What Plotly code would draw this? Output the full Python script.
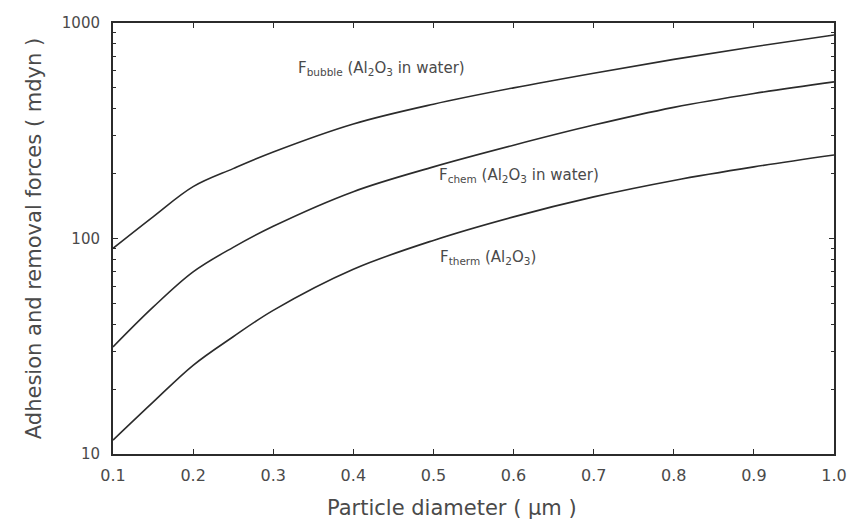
import plotly.graph_objects as go
import numpy as np

diameter = [0.1, 0.15, 0.2, 0.25, 0.3, 0.4, 0.5, 0.6, 0.7, 0.8, 0.9, 1.0]
f_bubble = [90, 126, 174, 211, 252, 340, 420, 500, 585, 678, 776, 880]
f_chem = [31.4, 48, 70, 91, 114, 165, 215, 271, 336, 406, 471, 533]
f_therm = [11.6, 17.4, 25.8, 35, 46.4, 72, 98, 126, 156, 186, 215, 244]

x_ticks = [0.1, 0.2, 0.3, 0.4, 0.5, 0.6, 0.7, 0.8, 0.9, 1.0]
x_ticklabels = ["0.1", "0.2", "0.3", "0.4", "0.5", "0.6", "0.7", "0.8", "0.9", "1.0"]
y_ticks = [10, 100, 1000]
y_ticklabels = ["10", "100", "1000"]
y_minor = [m * d for d in (10, 100) for m in range(2, 10)]

labels = [
    ("F<sub>bubble</sub> (Al<sub>2</sub>O<sub>3</sub> in water)", 0.328, 618),
    ("F<sub>chem</sub> (Al<sub>2</sub>O<sub>3</sub> in water)", 0.504, 197),
    ("F<sub>therm</sub> (Al<sub>2</sub>O<sub>3</sub>)", 0.506, 81.5),
]
x_title = "Particle diameter ( µm )"
y_title = "Adhesion and removal forces ( mdyn )"

line_color = "#2b2b2b"
text_color = "#4a4a4a"
font_family = "DejaVu Sans, Verdana, sans-serif"

fig = go.Figure()
for ys in (f_bubble, f_chem, f_therm):
    fig.add_trace(go.Scatter(x=diameter, y=ys, mode="lines",
                             line=dict(color=line_color, width=1.6, shape="spline", smoothing=1.0),
                             showlegend=False, hoverinfo="skip"))

for text, lx, ly in labels:
    fig.add_annotation(x=lx, y=np.log10(ly), xref="x", yref="y", text=text,
                       showarrow=False, xanchor="left", yanchor="middle",
                       font=dict(family=font_family, size=15, color=text_color))

# x-axis title, placed slightly left of centre as in the reference
fig.add_annotation(x=0.4706, y=0, xref="paper", yref="paper", yshift=-54,
                   text=x_title, showarrow=False, xanchor="center", yanchor="middle",
                   font=dict(family=font_family, size=21, color=text_color))

fig.update_xaxes(range=[0.1, 1.0], tickvals=x_ticks, ticktext=x_ticklabels,
                 ticks="inside", ticklen=5, tickwidth=1.2, tickcolor=line_color, mirror="ticks",
                 showline=True, linecolor=line_color, linewidth=2, showgrid=False,
                 zeroline=False, ticklabelstandoff=6,
                 tickfont=dict(family=font_family, size=16, color=text_color))
fig.update_yaxes(type="log", range=[1, 3], tickvals=y_ticks, ticktext=y_ticklabels,
                 ticks="inside", ticklen=5, tickwidth=1.2, tickcolor=line_color, mirror="allticks",
                 minor=dict(tickvals=y_minor, ticks="inside", ticklen=3, tickwidth=1,
                            tickcolor=line_color, showgrid=False),
                 showline=True, linecolor=line_color, linewidth=2, showgrid=False,
                 ticklabelstandoff=8,
                 tickfont=dict(family=font_family, size=15, color=text_color),
                 title=dict(text=y_title, standoff=14,
                            font=dict(family=font_family, size=21, color=text_color)))

fig.update_layout(width=859, height=522, margin=dict(l=113, r=15, t=23, b=68),
                  plot_bgcolor="white", paper_bgcolor="white")

fig.write_html("out.html")
